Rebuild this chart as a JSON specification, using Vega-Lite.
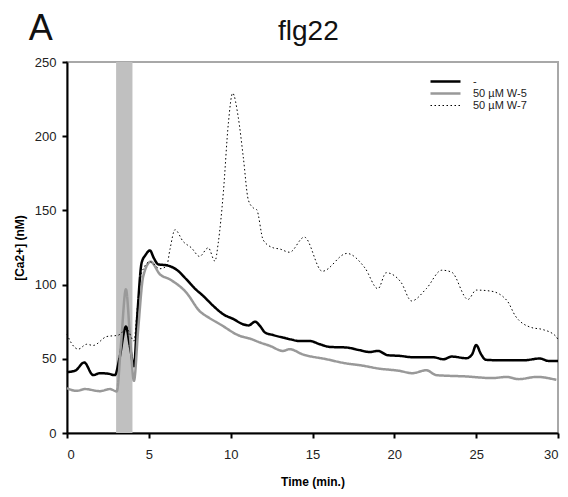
{
  "$schema": "https://vega.github.io/schema/vega-lite/v6.json",
  "width": 491,
  "height": 371,
  "autosize": {"type": "none"},
  "padding": {"left": 67, "top": 62, "right": 10, "bottom": 64},
  "background": "white",
  "config": {
    "view": {"stroke": "#a8a8a8", "strokeWidth": 2},
    "font": "Liberation Sans",
    "axis": {"grid": false, "domainColor": "#000", "domainWidth": 2, "tickColor": "#000", "tickWidth": 2, "tickSize": 5, "labelFont": "Liberation Sans", "labelFontSize": 13, "labelColor": "#222", "titleFont": "Liberation Sans", "titleFontWeight": "bold", "titleFontSize": 12, "titleColor": "#000"}
  },
  "datasets": {
    "band": [{"start": 3, "end": 4}],
    "panel": [{"label": "A"}],
    "heading": [{"label": "flg22"}],
    "traces": [
      {"t": 0, "v": 41, "s": "-"},
      {"t": 0.5, "v": 42, "s": "-"},
      {"t": 1.05, "v": 47.5, "s": "-"},
      {"t": 1.6, "v": 39, "s": "-"},
      {"t": 2.0, "v": 40.3, "s": "-"},
      {"t": 2.5, "v": 40, "s": "-"},
      {"t": 2.93, "v": 39, "s": "-"},
      {"t": 3.2, "v": 50, "s": "-"},
      {"t": 3.6, "v": 71.7, "s": "-"},
      {"t": 3.85, "v": 58, "s": "-"},
      {"t": 4.09, "v": 45, "s": "-"},
      {"t": 4.3, "v": 80, "s": "-"},
      {"t": 4.56, "v": 114.7, "s": "-"},
      {"t": 4.8, "v": 120, "s": "-"},
      {"t": 5.07, "v": 123, "s": "-"},
      {"t": 5.3, "v": 118, "s": "-"},
      {"t": 5.58, "v": 113.6, "s": "-"},
      {"t": 6.09, "v": 113, "s": "-"},
      {"t": 6.7, "v": 110, "s": "-"},
      {"t": 7.3, "v": 103.5, "s": "-"},
      {"t": 7.8, "v": 97.5, "s": "-"},
      {"t": 8.33, "v": 92.3, "s": "-"},
      {"t": 9.0, "v": 85, "s": "-"},
      {"t": 9.55, "v": 80, "s": "-"},
      {"t": 10.2, "v": 76.6, "s": "-"},
      {"t": 10.7, "v": 73.5, "s": "-"},
      {"t": 11.1, "v": 72.5, "s": "-"},
      {"t": 11.49, "v": 75, "s": "-"},
      {"t": 11.8, "v": 72, "s": "-"},
      {"t": 12.1, "v": 67.7, "s": "-"},
      {"t": 12.6, "v": 66, "s": "-"},
      {"t": 13.2, "v": 64.3, "s": "-"},
      {"t": 13.7, "v": 63, "s": "-"},
      {"t": 14.14, "v": 62, "s": "-"},
      {"t": 14.84, "v": 62, "s": "-"},
      {"t": 15.4, "v": 60, "s": "-"},
      {"t": 16.06, "v": 58, "s": "-"},
      {"t": 17.08, "v": 57.6, "s": "-"},
      {"t": 17.8, "v": 56, "s": "-"},
      {"t": 18.5, "v": 54.6, "s": "-"},
      {"t": 19.0, "v": 55.3, "s": "-"},
      {"t": 19.6, "v": 52.4, "s": "-"},
      {"t": 20.3, "v": 52, "s": "-"},
      {"t": 21.2, "v": 51, "s": "-"},
      {"t": 22.4, "v": 51, "s": "-"},
      {"t": 23.0, "v": 49.7, "s": "-"},
      {"t": 23.5, "v": 51.5, "s": "-"},
      {"t": 24.4, "v": 50.4, "s": "-"},
      {"t": 24.75, "v": 53, "s": "-"},
      {"t": 25.0, "v": 59.3, "s": "-"},
      {"t": 25.3, "v": 53, "s": "-"},
      {"t": 25.6, "v": 49.3, "s": "-"},
      {"t": 26.45, "v": 49, "s": "-"},
      {"t": 27.9, "v": 49, "s": "-"},
      {"t": 28.9, "v": 50.2, "s": "-"},
      {"t": 29.4, "v": 48.6, "s": "-"},
      {"t": 30, "v": 48.6, "s": "-"},
      {"t": 0, "v": 30.2, "s": "50 µM W-5"},
      {"t": 0.59, "v": 28.4, "s": "50 µM W-5"},
      {"t": 1.1, "v": 29.6, "s": "50 µM W-5"},
      {"t": 2.0, "v": 28.2, "s": "50 µM W-5"},
      {"t": 2.63, "v": 29.6, "s": "50 µM W-5"},
      {"t": 3.04, "v": 28, "s": "50 µM W-5"},
      {"t": 3.3, "v": 60, "s": "50 µM W-5"},
      {"t": 3.6, "v": 96.8, "s": "50 µM W-5"},
      {"t": 3.85, "v": 65, "s": "50 µM W-5"},
      {"t": 4.09, "v": 35.2, "s": "50 µM W-5"},
      {"t": 4.35, "v": 70, "s": "50 µM W-5"},
      {"t": 4.66, "v": 105.7, "s": "50 µM W-5"},
      {"t": 5.11, "v": 115.4, "s": "50 µM W-5"},
      {"t": 5.68, "v": 106.9, "s": "50 µM W-5"},
      {"t": 6.29, "v": 103.5, "s": "50 µM W-5"},
      {"t": 7.3, "v": 94.5, "s": "50 µM W-5"},
      {"t": 8.1, "v": 82.2, "s": "50 µM W-5"},
      {"t": 8.7, "v": 77.5, "s": "50 µM W-5"},
      {"t": 9.35, "v": 73.3, "s": "50 µM W-5"},
      {"t": 10.57, "v": 65.4, "s": "50 µM W-5"},
      {"t": 11.18, "v": 63.6, "s": "50 µM W-5"},
      {"t": 11.79, "v": 61, "s": "50 µM W-5"},
      {"t": 12.4, "v": 58.7, "s": "50 µM W-5"},
      {"t": 13.2, "v": 55.3, "s": "50 µM W-5"},
      {"t": 13.6, "v": 56.5, "s": "50 µM W-5"},
      {"t": 14.4, "v": 53, "s": "50 µM W-5"},
      {"t": 15.86, "v": 49.7, "s": "50 µM W-5"},
      {"t": 17, "v": 47, "s": "50 µM W-5"},
      {"t": 18, "v": 45.5, "s": "50 µM W-5"},
      {"t": 19, "v": 43.5, "s": "50 µM W-5"},
      {"t": 20.3, "v": 41.9, "s": "50 µM W-5"},
      {"t": 21.1, "v": 40.3, "s": "50 µM W-5"},
      {"t": 21.95, "v": 42.3, "s": "50 µM W-5"},
      {"t": 22.57, "v": 39, "s": "50 µM W-5"},
      {"t": 24.4, "v": 38.1, "s": "50 µM W-5"},
      {"t": 26.0, "v": 37, "s": "50 µM W-5"},
      {"t": 26.85, "v": 37.8, "s": "50 µM W-5"},
      {"t": 27.6, "v": 36.3, "s": "50 µM W-5"},
      {"t": 28.7, "v": 37.8, "s": "50 µM W-5"},
      {"t": 29.9, "v": 35.8, "s": "50 µM W-5"},
      {"t": 0, "v": 66.5, "s": "50 µM W-7"},
      {"t": 0.3, "v": 60, "s": "50 µM W-7"},
      {"t": 0.69, "v": 56.5, "s": "50 µM W-7"},
      {"t": 1.2, "v": 59.8, "s": "50 µM W-7"},
      {"t": 1.6, "v": 59, "s": "50 µM W-7"},
      {"t": 2.43, "v": 65, "s": "50 µM W-7"},
      {"t": 3.13, "v": 65.9, "s": "50 µM W-7"},
      {"t": 3.65, "v": 70, "s": "50 µM W-7"},
      {"t": 4.09, "v": 62, "s": "50 µM W-7"},
      {"t": 4.3, "v": 85, "s": "50 µM W-7"},
      {"t": 4.56, "v": 108, "s": "50 µM W-7"},
      {"t": 5.07, "v": 115.4, "s": "50 µM W-7"},
      {"t": 5.68, "v": 110.7, "s": "50 µM W-7"},
      {"t": 6.09, "v": 112.5, "s": "50 µM W-7"},
      {"t": 6.29, "v": 123.7, "s": "50 µM W-7"},
      {"t": 6.6, "v": 137, "s": "50 µM W-7"},
      {"t": 7.1, "v": 129, "s": "50 µM W-7"},
      {"t": 7.6, "v": 124.8, "s": "50 µM W-7"},
      {"t": 8.1, "v": 119, "s": "50 µM W-7"},
      {"t": 8.63, "v": 124.8, "s": "50 µM W-7"},
      {"t": 9.04, "v": 115.8, "s": "50 µM W-7"},
      {"t": 9.24, "v": 128, "s": "50 µM W-7"},
      {"t": 9.55, "v": 161.7, "s": "50 µM W-7"},
      {"t": 9.86, "v": 208.8, "s": "50 µM W-7"},
      {"t": 10.12, "v": 229, "s": "50 µM W-7"},
      {"t": 10.46, "v": 213, "s": "50 µM W-7"},
      {"t": 10.77, "v": 186, "s": "50 µM W-7"},
      {"t": 11.08, "v": 157, "s": "50 µM W-7"},
      {"t": 11.38, "v": 151.7, "s": "50 µM W-7"},
      {"t": 11.59, "v": 150.5, "s": "50 µM W-7"},
      {"t": 11.99, "v": 130, "s": "50 µM W-7"},
      {"t": 12.6, "v": 124.8, "s": "50 µM W-7"},
      {"t": 13.0, "v": 124, "s": "50 µM W-7"},
      {"t": 13.6, "v": 121.8, "s": "50 µM W-7"},
      {"t": 14.5, "v": 132, "s": "50 µM W-7"},
      {"t": 15.6, "v": 109, "s": "50 µM W-7"},
      {"t": 17.1, "v": 121, "s": "50 µM W-7"},
      {"t": 18.2, "v": 111.3, "s": "50 µM W-7"},
      {"t": 19.0, "v": 97.2, "s": "50 µM W-7"},
      {"t": 19.5, "v": 108, "s": "50 µM W-7"},
      {"t": 20.4, "v": 101.7, "s": "50 µM W-7"},
      {"t": 21.05, "v": 89, "s": "50 µM W-7"},
      {"t": 21.95, "v": 97.2, "s": "50 µM W-7"},
      {"t": 22.9, "v": 109.7, "s": "50 µM W-7"},
      {"t": 23.5, "v": 108.4, "s": "50 µM W-7"},
      {"t": 24.5, "v": 90, "s": "50 µM W-7"},
      {"t": 25.0, "v": 96.3, "s": "50 µM W-7"},
      {"t": 25.9, "v": 95.6, "s": "50 µM W-7"},
      {"t": 26.9, "v": 89, "s": "50 µM W-7"},
      {"t": 27.4, "v": 78.8, "s": "50 µM W-7"},
      {"t": 28.4, "v": 71, "s": "50 µM W-7"},
      {"t": 29.0, "v": 69.9, "s": "50 µM W-7"},
      {"t": 29.85, "v": 65.4, "s": "50 µM W-7"},
      {"t": 30, "v": 63, "s": "50 µM W-7"}
    ]
  },
  "layer": [
    {
      "data": {"name": "band"},
      "mark": {"type": "rect", "color": "#c0c0c0"},
      "encoding": {
        "x": {"field": "start", "type": "quantitative", "scale": {"domain": [0, 30], "nice": false}},
        "x2": {"field": "end"}
      }
    },
    {
      "data": {"name": "traces"},
      "mark": {"type": "line", "interpolate": "monotone"},
      "encoding": {
        "x": {"field": "t", "type": "quantitative", "scale": {"domain": [0, 30], "nice": false},
          "axis": {"values": [0, 5, 10, 15, 20, 25, 30], "title": "Time (min.)", "titlePadding": 15, "labelPadding": 10}},
        "y": {"field": "v", "type": "quantitative", "scale": {"domain": [0, 250], "nice": false},
          "axis": {"values": [0, 50, 100, 150, 200, 250], "title": "[Ca2+] (nM)", "titlePadding": 8, "labelPadding": 6}},
        "color": {"field": "s", "type": "nominal", "title": null,
          "scale": {"domain": ["-", "50 µM W-5", "50 µM W-7"], "range": ["#000000", "#999999", "#000000"]},
          "legend": {"orient": "none", "legendX": 372, "legendY": 13, "symbolType": "M-3,0H3", "symbolSize": 100, "labelFontSize": 11, "labelFont": "Liberation Sans", "labelColor": "#222", "rowPadding": 0, "labelOffset": 21}},
        "strokeDash": {"field": "s", "type": "nominal", "title": null,
          "scale": {"type": "ordinal", "domain": ["-", "50 µM W-5", "50 µM W-7"], "range": [[1, 0], [1, 0], [1.5, 2.5]]}},
        "strokeWidth": {"field": "s", "type": "nominal", "title": null,
          "scale": {"type": "ordinal", "domain": ["-", "50 µM W-5", "50 µM W-7"], "range": [2.5, 2.5, 1]}}
      }
    },
    {
      "data": {"name": "panel"},
      "mark": {"type": "text", "fontSize": 36, "font": "Liberation Sans", "color": "#111", "baseline": "alphabetic", "align": "center"},
      "encoding": {
        "text": {"field": "label"},
        "x": {"datum": -1.6, "type": "quantitative"},
        "y": {"datum": 265, "type": "quantitative"}
      }
    },
    {
      "data": {"name": "heading"},
      "mark": {"type": "text", "fontSize": 28, "font": "Liberation Sans", "color": "#111", "baseline": "alphabetic", "align": "center"},
      "encoding": {
        "text": {"field": "label"},
        "x": {"datum": 14.75, "type": "quantitative"},
        "y": {"datum": 265, "type": "quantitative"}
      }
    }
  ]
}
